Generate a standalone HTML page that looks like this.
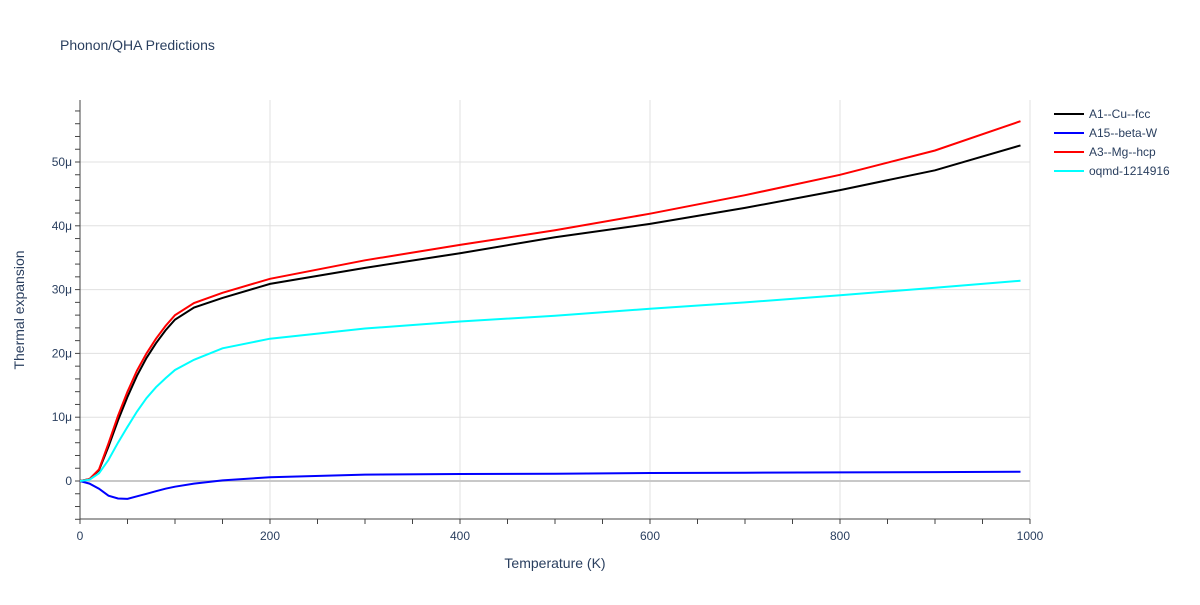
<!DOCTYPE html>
<html><head><meta charset="utf-8">
<style>
body{margin:0;background:#fff;font-family:"Liberation Sans",sans-serif;}
svg text{font-family:"Liberation Sans",sans-serif;fill:#2a3f5f;}
</style></head>
<body>
<svg id="chart" width="1200" height="600">
<text x="60" y="50" font-size="14">Phonon/QHA Predictions</text>
<g id="grid"></g><g id="axes"></g><g id="series"></g><g id="legend"></g>
</svg>
<script>
const temps=[0,10,20,30,40,50,60,70,80,90,100,120,150,200,300,400,500,600,700,800,900,990];
const cuFcc=[0,0.3,1.7,5.4,9.5,13.2,16.5,19.3,21.6,23.6,25.3,27.2,28.7,30.9,33.4,35.7,38.2,40.3,42.8,45.6,48.7,52.6];
const betaW=[0,-0.4,-1.2,-2.3,-2.75,-2.8,-2.4,-2.0,-1.6,-1.2,-0.9,-0.4,0.1,0.6,1.0,1.1,1.15,1.25,1.3,1.35,1.4,1.45];
const mgHcp=[0,0.3,1.8,5.9,10.2,14.0,17.3,20.0,22.3,24.3,26.0,27.9,29.5,31.7,34.6,37.0,39.3,41.9,44.8,48.0,51.8,56.4];
const oqmd=[0,0.2,1.2,3.3,6.0,8.5,10.9,13.0,14.7,16.1,17.4,19.0,20.8,22.3,23.9,25.0,25.9,27.0,28.0,29.1,30.3,31.4];
const names=["A1--Cu--fcc","A15--beta-W","A3--Mg--hcp","oqmd-1214916"];
const colors=["#000000","#0000ff","#ff0000","#00ffff"];
const xTicks=[0,200,400,600,800,1000];
const yTicks=[0,10,20,30,40,50];
const yTickLabels=["0","10μ","20μ","30μ","40μ","50μ"];
const X0=80,X1=1030,Y0=481,PX=6.38,YT=100,YB=519;
const xs=t=>X0+t*(X1-X0)/1000, ys=v=>Y0-v*PX;
const NS="http://www.w3.org/2000/svg";
function mk(tag,attrs,parent){const e=document.createElementNS(NS,tag);for(const k in attrs)e.setAttribute(k,attrs[k]);document.getElementById(parent).appendChild(e);return e;}
xTicks.forEach(t=>{if(t>0){const l=mk('line',{x1:xs(t),x2:xs(t),y1:YT,y2:YB,stroke:'#e0e0e0'},'grid');}
 const tx=mk('text',{x:xs(t),y:YB+21,'font-size':12,'text-anchor':'middle'},'axes');tx.textContent=t;});
for(let t=0;t<=1000;t+=50){const l=mk('line',{x1:xs(t),x2:xs(t),y1:YB,y2:YB+5,stroke:'#444'},'axes');}
for(let v=-6;v<=58;v+=2){const l=mk('line',{x1:X0-5,x2:X0,y1:ys(v),y2:ys(v),stroke:'#444'},'axes');}
yTicks.forEach((v,i)=>{const l=mk('line',{x1:X0,x2:X1,y1:ys(v),y2:ys(v),stroke:v===0?'#c8c8c8':'#e0e0e0','stroke-width':v===0?2:1},'grid');
 const tx=mk('text',{x:X0-8,y:ys(v)+4,'font-size':12,'text-anchor':'end'},'axes');tx.textContent=yTickLabels[i];});
let a=mk('line',{x1:X0,x2:X0,y1:YT,y2:YB,stroke:'#444'},'axes');
a=mk('line',{x1:X0,x2:X1,y1:YB,y2:YB,stroke:'#444'},'axes');
let t=mk('text',{x:555,y:568,'font-size':14,'text-anchor':'middle'},'axes');t.textContent='Temperature (K)';
t=mk('text',{x:24,y:310,'font-size':14,'text-anchor':'middle',transform:'rotate(-90 24 310)'},'axes');t.textContent='Thermal expansion';
[cuFcc,betaW,mgHcp,oqmd].forEach((s,i)=>{const d=s.map((v,j)=>(j?'L':'M')+xs(temps[j]).toFixed(1)+','+ys(v).toFixed(1)).join('');
 const p=mk('path',{d:d,fill:'none',stroke:colors[i],'stroke-width':2},'series');
 const ly=114+i*19;
 const l=mk('line',{x1:1054,x2:1084,y1:ly,y2:ly,stroke:colors[i],'stroke-width':2},'legend');
 const tx=mk('text',{x:1089,y:ly+4,'font-size':12},'legend');tx.textContent=names[i];});
</script>
</body></html>
